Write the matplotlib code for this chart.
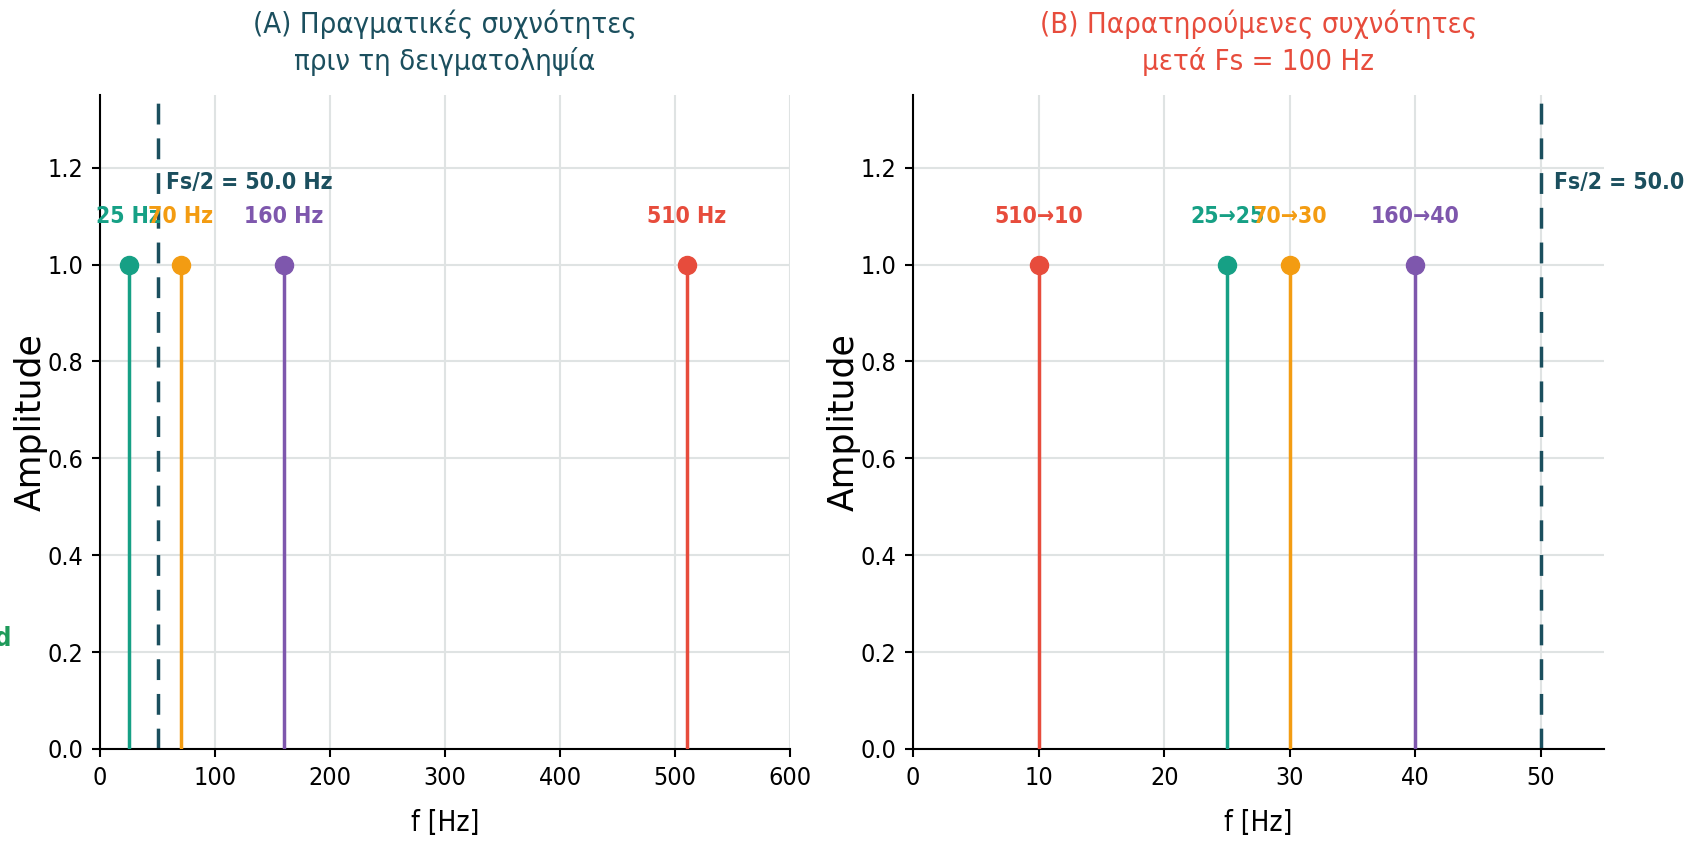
import matplotlib
matplotlib.use("Agg")
import matplotlib.pyplot as plt

# data
true_freqs = [25, 70, 160, 510]
obs_freqs = [25, 30, 40, 10]
amps = [1.0, 1.0, 1.0, 1.0]
colors = ["#16a085", "#f39c12", "#7e57ad", "#e74c3c"]
true_labels = ["25 Hz", "70 Hz", "160 Hz", "510 Hz"]
obs_labels = ["25→25", "70→30", "160→40", "510→10"]
fs = 100
nyq = fs / 2

dark = "#1b4f5e"
plt.rcParams["font.family"] = ["DejaVu Sans"]
plt.rcParams["font.stretch"] = "condensed"

fig = plt.figure(figsize=(16.99, 8.44), dpi=100)
ax1 = fig.add_axes([0.0589, 0.1126, 0.4061, 0.7748])
ax2 = fig.add_axes([0.5374, 0.1126, 0.4066, 0.7748])


def style(ax):
    ax.spines["top"].set_visible(False)
    ax.spines["right"].set_visible(False)
    ax.spines["left"].set_linewidth(1.5)
    ax.spines["bottom"].set_linewidth(1.5)
    ax.grid(True, color="#dfe3e3", linewidth=1.5)
    ax.set_axisbelow(True)
    ax.tick_params(labelsize=18, length=6, width=1.5, pad=6)
    ax.set_ylim(0, 1.35)
    ax.set_yticks([0, 0.2, 0.4, 0.6, 0.8, 1.0, 1.2])
    ax.set_ylabel("Amplitude", fontsize=25, fontstretch="normal", labelpad=0)
    ax.set_xlabel("f [Hz]", fontsize=20, labelpad=14)


def stems(ax, xs, labels):
    for x, a, c, lab in zip(xs, amps, colors, labels):
        ax.plot([x, x], [0, a], color=c, linewidth=2.5, zorder=3)
        ax.plot([x], [a], "o", color=c, markersize=13, zorder=4)
        ax.text(x, 1.1, lab, color=c, fontsize=16.5, fontweight="bold",
                ha="center", va="center", zorder=5)


# (A) true frequencies
style(ax1)
stems(ax1, true_freqs, true_labels)
ax1.axvline(nyq, color=dark, linestyle="--", linewidth=2.5, dashes=(6, 4), zorder=2)
ax1.text(nyq + 7, 1.17, f"Fs/2 = {nyq:.1f} Hz", color=dark, fontsize=16.5,
         fontweight="bold", ha="left", va="center")
ax1.set_xlim(0, 600)
ax1.set_xticks([0, 100, 200, 300, 400, 500, 600])
ax1.set_title("(A) Πραγματικές συχνότητες\nπριν τη δειγματοληψία",
              color=dark, fontsize=21, pad=18, linespacing=1.35)

# (B) observed frequencies after sampling
style(ax2)
stems(ax2, obs_freqs, obs_labels)
ax2.axvline(nyq, color=dark, linestyle="--", linewidth=2.5, dashes=(6, 4), zorder=2)
ax2.text(nyq + 1, 1.17, f"Fs/2 = {nyq:.1f}", color=dark, fontsize=16.5,
         fontweight="bold", ha="left", va="center")
ax2.set_xlim(0, 55)
ax2.set_xticks([0, 10, 20, 30, 40, 50])
ax2.set_title(f"(B) Παρατηρούμενες συχνότητες\nμετά Fs = {fs} Hz",
              color="#e74c3c", fontsize=21, pad=18, linespacing=1.35)

# clipped side note at the left edge
fig.text(0.0075, 0.243, "Folded", color="#1e9a5a", fontsize=19,
         fontweight="bold", ha="right", va="center")

fig.savefig("out.png", dpi=100)
